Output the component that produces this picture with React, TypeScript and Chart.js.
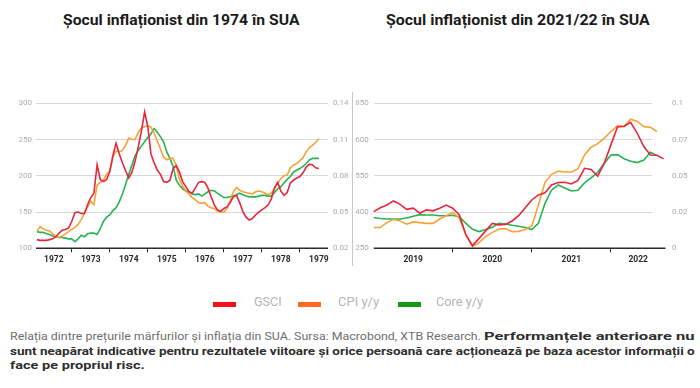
import React, { useEffect, useLayoutEffect, useRef } from 'react';
import { Chart, registerables } from 'chart.js';

Chart.register(...registerables);

// ---------- DATA ----------
// 1970s chart: monthly values starting February 1972
const start1970s = 1972 + 1 / 12;
const gsci1970s = [
  112, 111, 111, 111, 112, 113, 116, 121, 125, 126,
  128, 137, 149, 150, 148, 148, 160, 170, 176, 215,
  195, 192, 195, 206, 228, 245, 230, 218, 207, 197,
  205, 220, 240, 262, 288, 268, 230, 218, 208, 202,
  192, 191, 194, 210, 214, 205, 192, 185, 178, 176,
  183, 191, 192, 191, 183, 171, 160, 153, 151, 155,
  157, 163, 171, 173, 163, 151, 143, 139, 141, 146,
  150, 153, 156, 160, 168, 183, 191, 179, 173, 177,
  190, 194, 197, 199, 204, 212, 216, 215, 211, 210,
];
const cpi1970s = [
  0.0338, 0.038, 0.0362, 0.035, 0.0344, 0.032, 0.0296, 0.029, 0.0302, 0.032,
  0.0338, 0.0356, 0.0374, 0.0398, 0.044, 0.0488, 0.0542, 0.059, 0.056, 0.0722,
  0.0746, 0.0764, 0.0812, 0.0836, 0.0956, 0.1004, 0.0998, 0.101, 0.1052, 0.1112,
  0.11, 0.11, 0.116, 0.1196, 0.1208, 0.1214, 0.1202, 0.1154, 0.1088, 0.1022,
  0.0956, 0.0932, 0.0944, 0.0944, 0.0884, 0.077, 0.0716, 0.0674, 0.065, 0.062,
  0.0602, 0.0578, 0.0572, 0.0578, 0.0548, 0.0536, 0.053, 0.0506, 0.05, 0.05,
  0.053, 0.059, 0.0668, 0.0704, 0.068, 0.0668, 0.0662, 0.0656, 0.065, 0.0668,
  0.0674, 0.0668, 0.0656, 0.0644, 0.0656, 0.0698, 0.074, 0.0776, 0.08, 0.0806,
  0.0866, 0.089, 0.0902, 0.0926, 0.095, 0.0998, 0.1034, 0.1052, 0.1076, 0.1106,
];
const core1970s = [
  0.0338, 0.0332, 0.0332, 0.032, 0.0314, 0.0302, 0.0296, 0.029, 0.029, 0.0284,
  0.0278, 0.0278, 0.0254, 0.0278, 0.0308, 0.0296, 0.032, 0.0326, 0.0326, 0.0314,
  0.0362, 0.0422, 0.0458, 0.0476, 0.0512, 0.0536, 0.0584, 0.065, 0.0728, 0.0812,
  0.089, 0.0968, 0.101, 0.1046, 0.1082, 0.1118, 0.1148, 0.119, 0.116, 0.1124,
  0.1082, 0.0998, 0.0944, 0.0878, 0.0764, 0.0722, 0.0692, 0.0674, 0.0668, 0.065,
  0.0644, 0.065, 0.0632, 0.065, 0.0668, 0.068, 0.0674, 0.0656, 0.0638, 0.062,
  0.062, 0.0626, 0.0632, 0.0644, 0.0656, 0.0644, 0.0632, 0.0626, 0.0626, 0.0626,
  0.0632, 0.0638, 0.0638, 0.0632, 0.0632, 0.0662, 0.0692, 0.071, 0.074, 0.077,
  0.0794, 0.083, 0.0848, 0.086, 0.0878, 0.0902, 0.0932, 0.0944, 0.0944, 0.0944,
];

// 2020s chart: monthly values starting January 2019
const start2020s = 2019;
const gsci2020s = [
  402, 418, 429, 446, 432, 411, 416, 395, 409, 405,
  416, 429, 416, 388, 305, 261, 291, 322, 353, 347,
  349, 363, 385, 418, 450, 471, 480, 512, 522, 523,
  516, 531, 581, 576, 549, 602, 678, 752, 755, 771,
  726, 671, 636, 635, 620,
];
const cpi2020s = [
  0.0143, 0.0143, 0.0177, 0.02, 0.0189, 0.0166, 0.0182, 0.0177, 0.0172, 0.0172,
  0.0202, 0.0225, 0.0248, 0.0207, 0.0092, 0.0012, 0.0039, 0.008, 0.011, 0.0133,
  0.0136, 0.0115, 0.0117, 0.0129, 0.0154, 0.0299, 0.0455, 0.051, 0.0533, 0.0526,
  0.0526, 0.0547, 0.0644, 0.0697, 0.0722, 0.0759, 0.0805, 0.0844, 0.0839, 0.089,
  0.0875, 0.0839, 0.0835, 0.0805,
];
const core2020s = [
  0.0212, 0.0205, 0.0202, 0.0202, 0.0202, 0.0209, 0.0221, 0.0232, 0.023, 0.023,
  0.0225, 0.0225, 0.0228, 0.0216, 0.0172, 0.0131, 0.0115, 0.0129, 0.0145, 0.0172,
  0.0168, 0.0159, 0.0152, 0.0143, 0.0129, 0.0172, 0.031, 0.0402, 0.0437, 0.0416,
  0.0395, 0.04, 0.0451, 0.0485, 0.0524, 0.0586, 0.0644, 0.0646, 0.0618, 0.06,
  0.0591, 0.0609, 0.0662, 0.0639,
];

// tick labels
const leftTicks1970s = ['100', '150', '200', '250', '300'];
const rightTicks1970s = ['0.02', '0.05', '0.08', '0.11', '0.14'];
const years1970s = [1972, 1973, 1974, 1975, 1976, 1977, 1978, 1979];
const leftTicks2020s = ['250', '400', '550', '600', '850'];
const rightTicks2020s = ['0', '0.02', '0.05', '0.07', '0.1'];
const years2020s = [2019, 2020, 2021, 2022];

const seriesNames = ['GSCI', 'CPI y/y', 'Core y/y'];
const lineColors = ['#e8253d', '#f7a136', '#27b354'];
const legendColors = ['#f2101c', '#ff6b20', '#149914'];

// ---------- HELPERS ----------
const GRID = '#d8d8d8';
const AXIS = '#2b2b2b';
const TICK_GREY = '#ababab';

function monthly(values: number[], start: number) {
  return values.map((v, i) => ({ x: start + i / 12, y: v }));
}

const baselinePlugin = {
  id: 'baseline',
  afterDraw(chart: any, _args: any, opts: any) {
    const { ctx, chartArea, scales } = chart;
    const endX = scales.x.getPixelForValue(opts.end);
    ctx.save();
    ctx.strokeStyle = AXIS;
    ctx.lineWidth = 1.5;
    ctx.beginPath();
    ctx.moveTo(chartArea.left, chartArea.bottom);
    ctx.lineTo(endX, chartArea.bottom);
    ctx.stroke();
    ctx.restore();
  },
};

type Cfg = {
  gsci: number[];
  cpi: number[];
  core: number[];
  start: number;
  years: number[];
  xLo: number;
  xHi: number;
  axisEnd: number;
  labelHi: number;
  leftMin: number;
  leftMax: number;
  leftLabels: string[];
  rightMin: number;
  rightMax: number;
  rightLabels: string[];
  leftW: number;
  rightW: number;
  leftPad: number;
  rightGap: number;
};

function buildConfig(c: Cfg): any {
  const xTicks: { value: number; label: string; boundary: boolean }[] = [];
  c.years.forEach((y) => {
    if (y > c.xLo && y < c.xHi) xTicks.push({ value: y, label: '', boundary: true });
    const mid = (Math.max(y, c.xLo) + Math.min(y + 1, c.labelHi)) / 2;
    xTicks.push({ value: mid, label: String(y), boundary: false });
  });
  xTicks.sort((a, b) => a.value - b.value);

  const evenTicks = (min: number, max: number, n: number) =>
    Array.from({ length: n }, (_, i) => ({ value: min + ((max - min) * i) / (n - 1) }));

  const ds = (data: number[], i: number, axis: string) => ({
    label: seriesNames[i],
    data: monthly(data, c.start),
    yAxisID: axis,
    borderColor: lineColors[i],
    backgroundColor: lineColors[i],
    borderWidth: 1.6,
    pointRadius: 0,
    tension: 0,
    clip: false,
  });

  return {
    type: 'line',
    data: {
      datasets: [ds(c.gsci, 0, 'y'), ds(c.cpi, 1, 'y1'), ds(c.core, 2, 'y1')],
    },
    plugins: [baselinePlugin],
    options: {
      animation: false,
      responsive: false,
      events: [],
      layout: { padding: { top: 13.3, left: 0, right: 0, bottom: 0 } },
      plugins: {
        legend: { display: false },
        tooltip: { enabled: false },
        baseline: { end: c.axisEnd },
      },
      scales: {
        x: {
          type: 'linear',
          bounds: 'data',
          afterDataLimits: (s: any) => {
            s.min = c.xLo;
            s.max = c.xHi;
          },
          afterBuildTicks: (s: any) => {
            s.ticks = xTicks.map((t) => ({ value: t.value }));
          },
          afterFit: (s: any) => {
            s.height = 21.7;
          },
          border: { display: false },
          grid: {
            drawOnChartArea: false,
            drawTicks: true,
            tickLength: 4,
            tickWidth: 1,
            color: (ctx: any) => (xTicks[ctx.index] && xTicks[ctx.index].boundary ? AXIS : 'rgba(0,0,0,0)'),
            tickColor: (ctx: any) => (xTicks[ctx.index] && xTicks[ctx.index].boundary ? AXIS : 'rgba(0,0,0,0)'),
          },
          ticks: {
            autoSkip: false,
            maxRotation: 0,
            minRotation: 0,
            padding: 2,
            color: '#2a2a2a',
            font: { family: 'Roboto', size: 8.5, weight: 'bold' },
            callback: (_v: any, i: number) => xTicks[i].label,
          },
        },
        y: {
          type: 'linear',
          position: 'left',
          min: c.leftMin,
          max: c.leftMax,
          afterBuildTicks: (s: any) => {
            s.ticks = evenTicks(c.leftMin, c.leftMax, c.leftLabels.length);
          },
          afterFit: (s: any) => {
            s.width = c.leftW;
          },
          border: { display: false },
          grid: { color: GRID, lineWidth: 1, drawTicks: false },
          ticks: {
            padding: c.leftPad,
            color: TICK_GREY,
            font: { family: 'Roboto', size: 8 },
            callback: (_v: any, i: number) => c.leftLabels[i],
          },
        },
        y1: {
          type: 'linear',
          position: 'right',
          min: c.rightMin,
          max: c.rightMax,
          afterBuildTicks: (s: any) => {
            s.ticks = evenTicks(c.rightMin, c.rightMax, c.rightLabels.length);
          },
          afterFit: (s: any) => {
            s.width = c.rightW;
          },
          border: { display: false },
          grid: {
            drawOnChartArea: false,
            drawTicks: true,
            tickLength: c.rightGap,
            tickColor: 'rgba(0,0,0,0)',
            color: 'rgba(0,0,0,0)',
          },
          ticks: {
            padding: 4,
            color: TICK_GREY,
            font: { family: 'Roboto', size: 8 },
            callback: (_v: any, i: number) => c.rightLabels[i],
          },
        },
      },
    },
  };
}

function LineChart({ cfg, left, top }: { cfg: Cfg; left: number; top: number }) {
  const ref = useRef<HTMLCanvasElement | null>(null);
  useEffect(() => {
    if (!ref.current) return;
    const chart = new Chart(ref.current, buildConfig(cfg));
    return () => chart.destroy();
  }, [cfg]);
  return (
    <canvas
      ref={ref}
      width={350}
      height={180}
      style={{ position: 'absolute', left, top, width: 350, height: 180 }}
    />
  );
}

// text stretched horizontally to a target width (keeps its height)
function FitText({
  left,
  top,
  width,
  style,
  children,
}: {
  left: number;
  top: number;
  width: number;
  style: React.CSSProperties;
  children: React.ReactNode;
}) {
  const boxRef = useRef<HTMLDivElement | null>(null);
  const spanRef = useRef<HTMLSpanElement | null>(null);
  useLayoutEffect(() => {
    const fit = () => {
      const box = boxRef.current;
      const span = spanRef.current;
      if (!box || !span) return;
      const w = span.offsetWidth;
      if (w > 0) box.style.transform = `scaleX(${width / w})`;
    };
    fit();
    const fonts = (document as any).fonts;
    if (fonts && fonts.ready) fonts.ready.then(fit);
    const t = window.setTimeout(fit, 50);
    return () => window.clearTimeout(t);
  });
  return (
    <div
      ref={boxRef}
      style={{
        position: 'absolute',
        left,
        top,
        width: 1000,
        whiteSpace: 'nowrap',
        transformOrigin: '0 0',
        ...style,
      }}
    >
      <span ref={spanRef} style={{ display: 'inline-block', whiteSpace: 'nowrap' }}>
        {children}
      </span>
    </div>
  );
}

const cfg1970s: Cfg = {
  gsci: gsci1970s,
  cpi: cpi1970s,
  core: core1970s,
  start: start1970s,
  years: years1970s,
  xLo: 1972.06,
  xHi: 1979.74,
  axisEnd: 1979.74,
  labelHi: 1980,
  leftMin: 100,
  leftMax: 300,
  leftLabels: leftTicks1970s,
  rightMin: 0.02,
  rightMax: 0.14,
  rightLabels: rightTicks1970s,
  leftW: 36,
  rightW: 22,
  leftPad: 4,
  rightGap: 1,
};

const cfg2020s: Cfg = {
  gsci: gsci2020s,
  cpi: cpi2020s,
  core: core2020s,
  start: start2020s,
  years: years2020s,
  xLo: 2019,
  xHi: 2022.52,
  axisEnd: 2022.69,
  labelHi: 2022.69,
  leftMin: 250,
  leftMax: 850,
  leftLabels: leftTicks2020s,
  rightMin: 0,
  rightMax: 0.1,
  rightLabels: rightTicks2020s,
  leftW: 23.7,
  rightW: 48,
  leftPad: 5,
  rightGap: 16,
};

const titleStyle: React.CSSProperties = {
  fontFamily: 'Roboto, sans-serif',
  fontWeight: 700,
  fontSize: 14,
  lineHeight: '20px',
  color: '#1b1b1b',
};

const legendTextStyle: React.CSSProperties = {
  fontFamily: 'Roboto, sans-serif',
  fontSize: 13,
  lineHeight: '16px',
  color: '#b3b3b3',
};

const captionRegular: React.CSSProperties = {
  fontFamily: 'Roboto, sans-serif',
  fontSize: 11,
  lineHeight: '14.5px',
  color: '#6e6e6e',
};

const captionBold: React.CSSProperties = {
  ...captionRegular,
  fontWeight: 700,
  color: '#2e2e2e',
};

const legendItems = [
  { swatch: 213, text: 254, width: 28 },
  { swatch: 298, text: 338, width: 41 },
  { swatch: 398, text: 436, width: 47 },
];

export default function App() {
  return (
    <div
      style={{
        position: 'absolute',
        left: 0,
        top: 0,
        width: 700,
        height: 388,
        background: '#ffffff',
        overflow: 'hidden',
      }}
    >
      <FitText left={63} top={9.5} width={237} style={titleStyle}>
        Șocul inflaționist din 1974 în SUA
      </FitText>
      <FitText left={386} top={9.5} width={264} style={titleStyle}>
        Șocul inflaționist din 2021/22 în SUA
      </FitText>

      <LineChart cfg={cfg1970s} left={0} top={90} />
      <LineChart cfg={cfg2020s} left={350} top={90} />
      <div style={{ position: 'absolute', left: 352, top: 92, width: 1, height: 174, background: '#c8c8c8' }} />

      {legendItems.map((it, i) => (
        <React.Fragment key={seriesNames[i]}>
          <div
            style={{
              position: 'absolute',
              left: it.swatch,
              top: 301.5,
              width: 23,
              height: 5,
              background: legendColors[i],
            }}
          />
          <FitText left={it.text} top={294} width={it.width} style={legendTextStyle}>
            {seriesNames[i]}
          </FitText>
        </React.Fragment>
      ))}

      <FitText left={10} top={329.5} width={471} style={captionRegular}>
        Relația dintre prețurile mărfurilor și inflația din SUA. Sursa: Macrobond, XTB Research.
      </FitText>
      <FitText left={484} top={329.5} width={211} style={captionBold}>
        Performanțele anterioare nu
      </FitText>
      <FitText left={10} top={344.5} width={685} style={captionBold}>
        sunt neapărat indicative pentru rezultatele viitoare și orice persoană care acționează pe baza acestor informații o
      </FitText>
      <FitText left={10} top={358.5} width={135} style={captionBold}>
        face pe propriul risc.
      </FitText>
    </div>
  );
}
